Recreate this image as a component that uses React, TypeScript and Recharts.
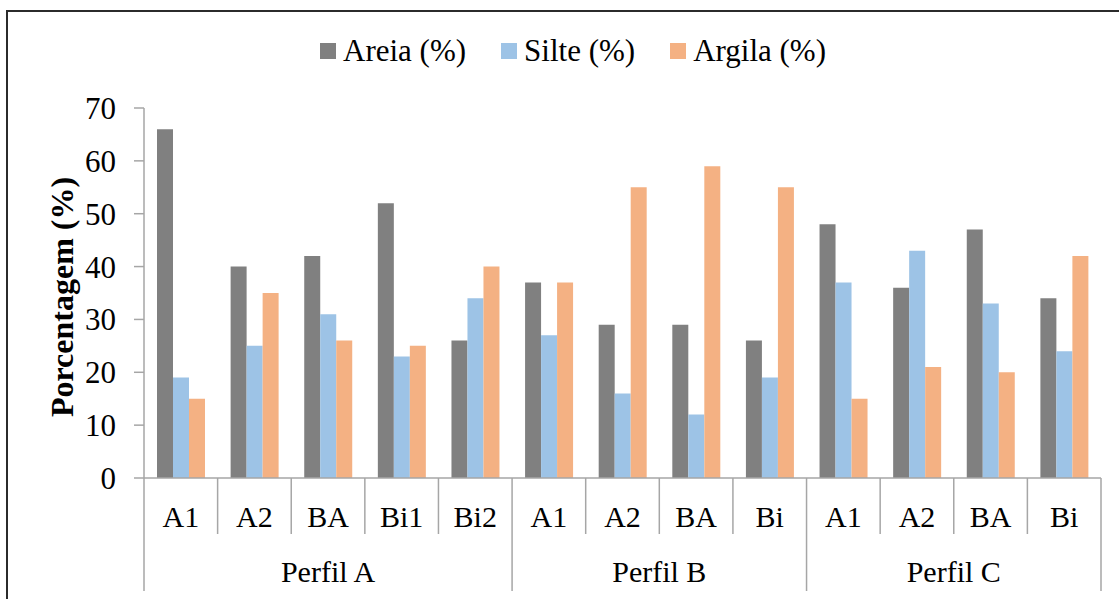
import { BarChart, Bar, XAxis, YAxis, Legend } from 'recharts';

// soil horizons along the x axis, grouped by profile
const horizons = ['A1', 'A2', 'BA', 'Bi1', 'Bi2', 'A1', 'A2', 'BA', 'Bi', 'A1', 'A2', 'BA', 'Bi'];
const profiles = [
  'Perfil A', 'Perfil A', 'Perfil A', 'Perfil A', 'Perfil A',
  'Perfil B', 'Perfil B', 'Perfil B', 'Perfil B',
  'Perfil C', 'Perfil C', 'Perfil C', 'Perfil C',
];

const areia = [66, 40, 42, 52, 26, 37, 29, 29, 26, 48, 36, 47, 34];
const silte = [19, 25, 31, 23, 34, 27, 16, 12, 19, 37, 43, 33, 24];
const argila = [15, 35, 26, 25, 40, 37, 55, 59, 55, 15, 21, 20, 42];

const yTicks = [0, 10, 20, 30, 40, 50, 60, 70];

const series = [
  { key: 'areia', name: 'Areia (%)', color: '#808080' },
  { key: 'silte', name: 'Silte (%)', color: '#9dc3e6' },
  { key: 'argila', name: 'Argila (%)', color: '#f4b183' },
];

const data = horizons.map((h, i) => ({
  id: `${profiles[i]}-${h}`,
  areia: areia[i],
  silte: silte[i],
  argila: argila[i],
}));

const FONT = '"Liberation Serif", "Times New Roman", serif';
const AXIS = '#a6a6a6';

// the frame runs past the right edge of the page, so only top and left show
const CHART_W = 1140;
const CHART_H = 587;
const Y_W = 136;
const LEGEND_H = 34;
const MARGIN = { top: 96 - LEGEND_H, right: 47, bottom: 8, left: 0 };
const X_H = 113;
const BAND = (CHART_W - MARGIN.left - MARGIN.right - Y_W) / horizons.length;

// two-level category axis: horizon row plus profile row with separators
const HorizonTick = (props: any) => {
  const { x, y, index } = props;
  const left = x - BAND / 2;
  const group = profiles[index];
  const first = index === 0 || profiles[index - 1] !== group;
  const last = index === horizons.length - 1;
  const count = profiles.filter((p) => p === group).length;
  return (
    <g>
      <line x1={left} y1={y} x2={left} y2={y + (first ? X_H : 56)} stroke={AXIS} strokeWidth={1.5} />
      {last && (
        <line x1={left + BAND} y1={y} x2={left + BAND} y2={y + X_H} stroke={AXIS} strokeWidth={1.5} />
      )}
      <text x={x} y={y + 49} textAnchor="middle" fontFamily={FONT} fontSize={30} fill="#000">
        {horizons[index]}
      </text>
      {first && (
        <text
          x={left + (count * BAND) / 2}
          y={y + 104}
          textAnchor="middle"
          fontFamily={FONT}
          fontSize={30}
          fill="#000"
        >
          {group}
        </text>
      )}
    </g>
  );
};

const LegendContent = () => (
  <div
    style={{
      display: 'flex',
      justifyContent: 'center',
      alignItems: 'center',
      fontFamily: FONT,
      fontSize: 31,
      lineHeight: `${LEGEND_H}px`,
      height: LEGEND_H,
    }}
  >
    {series.map((s, i) => (
      <div key={s.key} style={{ display: 'flex', alignItems: 'center', marginLeft: i ? 35 : 0 }}>
        <span style={{ width: 16, height: 16, background: s.color, marginRight: 7, display: 'inline-block' }} />
        <span>{s.name}</span>
      </div>
    ))}
  </div>
);

const YLabel = (props: any) => {
  const { viewBox } = props;
  const cx = 65;
  const cy = viewBox.y + viewBox.height / 2 + 4;
  return (
    <text
      x={cx}
      y={cy}
      transform={`rotate(-90 ${cx} ${cy})`}
      textAnchor="middle"
      fontFamily={FONT}
      fontSize={32}
      fontWeight="bold"
      fill="#000"
    >
      Porcentagem (%)
    </text>
  );
};

export default function App() {
  return (
    <>
      <style>{'body{margin:0;overflow:hidden}'}</style>
      <div
        style={{
          position: 'absolute',
          left: 6,
          top: 10,
          width: CHART_W,
          height: CHART_H,
          borderTop: '2px solid #2b2b2b',
          borderLeft: '2px solid #2b2b2b',
          background: '#fff',
        }}
      >
        <BarChart width={CHART_W} height={CHART_H} data={data} margin={MARGIN} barGap={0} barSize={16}>
          <Legend
            verticalAlign="top"
            content={<LegendContent />}
            wrapperStyle={{ top: 22, left: 19, width: 1092 }}
          />
          <YAxis
            width={Y_W}
            domain={[0, 70]}
            ticks={yTicks}
            interval={0}
            stroke={AXIS}
            strokeWidth={1.5}
            tickSize={10}
            tickMargin={18}
            tick={{ fill: '#000', fontSize: 31, fontFamily: FONT }}
            label={{ content: <YLabel /> }}
          />
          <XAxis
            dataKey="id"
            height={X_H}
            interval={0}
            stroke={AXIS}
            strokeWidth={1.5}
            tickLine={false}
            tickSize={0}
            tickMargin={0}
            tick={<HorizonTick />}
          />
          {series.map((s) => (
            <Bar key={s.key} dataKey={s.key} name={s.name} fill={s.color} isAnimationActive={false} />
          ))}
        </BarChart>
      </div>
    </>
  );
}
